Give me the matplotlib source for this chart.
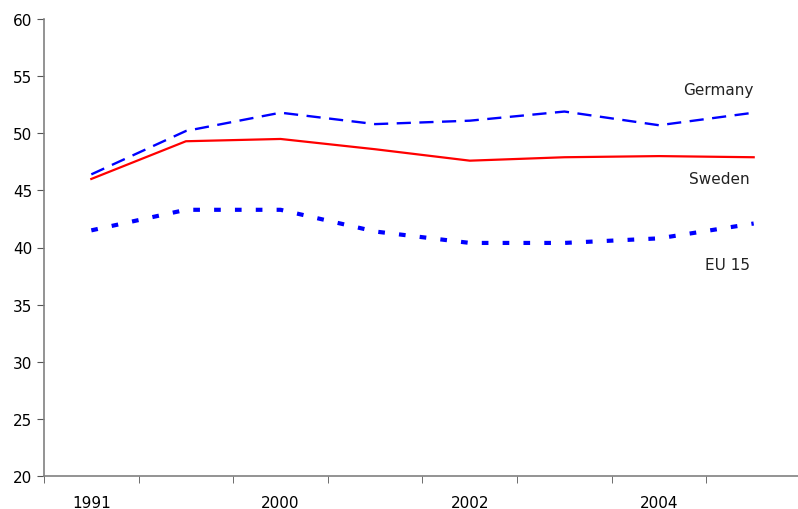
import matplotlib

matplotlib.use("Agg")
import matplotlib.pyplot as plt  # noqa: E402
import numpy as np  # noqa: E402

years = ["1991", "", "2000", "", "2002", "", "2004", ""]
germany = [46.4, 50.2, 51.8, 50.8, 51.1, 51.9, 50.7, 51.8]
sweden = [46.0, 49.3, 49.5, 48.6, 47.6, 47.9, 48.0, 47.9]
eu15 = [41.5, 43.3, 43.3, 41.4, 40.4, 40.4, 40.8, 42.1]

fig = plt.figure(figsize=(7.98, 5.10), dpi=100)
ax = fig.add_axes([44 / 798, 33 / 510, 757 / 798, 457 / 510])

x = np.arange(len(years))
ax.plot(x, germany, color="#0000ff", linewidth=1.7, dashes=(6, 3.6), dash_capstyle="butt")
ax.plot(x, sweden, color="#ff0000", linewidth=1.6)
ax.plot(x, eu15, color="#0000ff", linewidth=3.0, dashes=(1.6, 3.4), dash_capstyle="butt")

ax.text(7.0, 53.8, "Germany", ha="right", va="center", fontsize=11, color="#222222")
ax.text(6.96, 46.0, "Sweden", ha="right", va="center", fontsize=11, color="#222222")
ax.text(6.96, 38.5, "EU 15", ha="right", va="center", fontsize=11, color="#222222")

ax.set_xlim(-0.5, len(years) - 0.5)
ax.set_ylim(20, 60)
ax.set_yticks(np.arange(20, 61, 5))
ax.set_xticks(x[::2])
ax.set_xticklabels(years[::2])
ax.set_xticks(np.arange(-0.5, len(years), 1), minor=True)
ax.tick_params(axis="x", which="major", length=0, pad=14, labelsize=11)
ax.tick_params(axis="x", which="minor", length=5, color="#555555", direction="out")
ax.tick_params(axis="y", length=5, color="#555555", direction="out", labelsize=11)

for side in ("top", "right"):
    ax.spines[side].set_visible(False)
for side in ("left", "bottom"):
    ax.spines[side].set_color("#808080")
    ax.spines[side].set_linewidth(1.2)

fig.savefig("out.png", dpi=100)
